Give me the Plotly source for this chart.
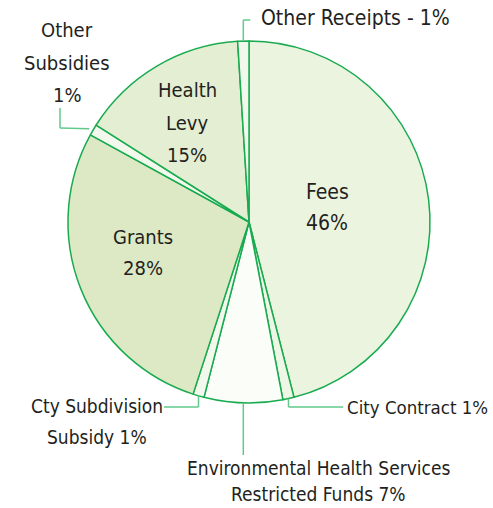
import math
import plotly.graph_objects as go

labels = ["Fees", "City Contract", "Environmental Health Services Restricted Funds",
          "Cty Subdivision Subsidy", "Grants", "Other Subsidies", "Health Levy", "Other Receipts"]
values = [46, 1, 7, 1, 28, 1, 15, 1]
colors = ["#ebf4df", "#eef6e6", "#fbfdf8", "#f3f8ec", "#dde9c5", "#f3f8ec", "#e4eed2", "#f3f8ec"]

W, H = 493, 508
CX, CY, R = 249, 222, 181
LINE = "#19ab50"
LEAD = "#62c98d"
FONT = "Liberation Sans Narrow, DejaVu Sans Condensed, Arial Narrow, sans-serif"
TXT = "#231f20"

fig = go.Figure(go.Pie(
    labels=labels, values=values, sort=False, direction="clockwise", rotation=0,
    marker=dict(colors=colors, line=dict(color=LINE, width=1.5)),
    textinfo="none", hoverinfo="label+percent",
    domain=dict(x=[(CX - R) / W, (CX + R) / W], y=[(H - CY - R) / H, (H - CY + R) / H]),
))

def px(x, y):
    return x / W, 1 - y / H

def anchor(i):
    cum = sum(values[:i]) + values[i] / 2
    ang = 2 * math.pi * cum / sum(values)
    return CX + R * math.sin(ang), CY - R * math.cos(ang)

shapes = []
def poly(pts):
    for (x0, y0), (x1, y1) in zip(pts[:-1], pts[1:]):
        a, b = px(x0, y0)
        c, d = px(x1, y1)
        shapes.append(dict(type="line", xref="paper", yref="paper", x0=a, y0=b, x1=c, y1=d,
                           line=dict(color=LEAD, width=1.5)))

# leader lines
ax, ay = anchor(7)
poly([(ax, ay), (ax, 20), (ax + 7, 20)])
ax, ay = anchor(5)
poly([(ax - 4, ay - 1), (60, 128), (60, 108)])
ax, ay = anchor(3)
poly([(ax, ay), (ax, 407), (164, 407)])
ax, ay = anchor(1)
poly([(ax, ay), (ax, 407), (343, 407)])
ax, ay = anchor(2)
poly([(ax, ay), (ax, 455)])

annotations = []
def txt(x, y, s, size=19, anchor_x="center"):
    a, b = px(x, y)
    annotations.append(dict(x=a, y=b, xref="paper", yref="paper", text=s, showarrow=False,
                            xanchor=anchor_x, yanchor="middle",
                            font=dict(family=FONT, size=size, color=TXT)))

txt(259, 18, f"Other Receipts - {values[7]}%", size=21, anchor_x="left")
txt(67, 30, "Other", 20)
txt(67, 63, "Subsidies", 20)
txt(67, 95, f"{values[5]}%", 20)
txt(187, 90, "Health", 20)
txt(187, 123, "Levy", 20)
txt(187, 155, f"{values[6]}%", 20)
txt(143, 237, "Grants", 20)
txt(143, 268, f"{values[4]}%", 20)
txt(327, 192, "Fees", 21)
txt(327, 223, f"{values[0]}%", 21)
txt(97, 406, "Cty Subdivision")
txt(97, 437, f"Subsidy {values[3]}%")
txt(490, 407, f"City Contract {values[1]}%", size=18.5, anchor_x="right")
txt(318, 468, "Environmental Health Services")
txt(318, 494, f"Restricted Funds {values[2]}%")

fig.update_layout(
    width=W, height=H, margin=dict(l=0, r=0, t=0, b=0),
    paper_bgcolor="white", plot_bgcolor="white", showlegend=False,
    shapes=shapes, annotations=annotations,
)
fig.write_html("out.html", config={"displayModeBar": False},
               post_script="document.body.style.margin='0';")
